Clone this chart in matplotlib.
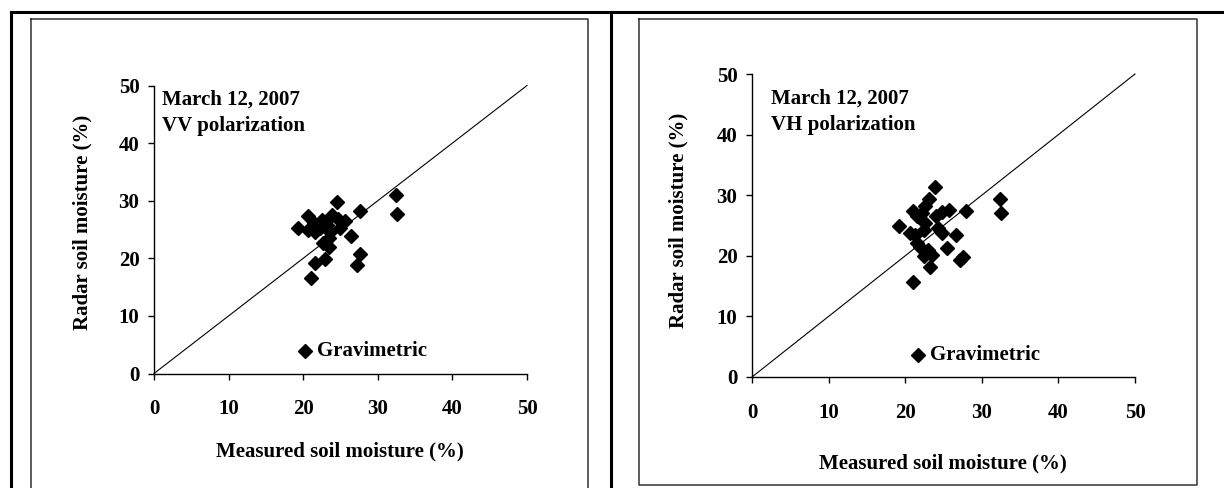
import matplotlib
matplotlib.use("Agg")
import matplotlib.pyplot as plt
from matplotlib.lines import Line2D

plt.rcParams['font.family'] = ['Liberation Serif', 'DejaVu Serif']
plt.rcParams['font.weight'] = 'bold'

# ---- data ----
vv_measured = [24.5, 27.6, 20.6, 19.3, 20.6, 21.6, 22.5, 22.3, 23.2, 23.8, 24.7, 25.6,
               24.9, 26.4, 23.4, 22.7, 23.4, 27.6, 27.2, 21.6, 22.9, 21.0, 32.4, 32.6,
               21.4, 23.6]
vv_radar = [29.7, 28.2, 27.4, 25.3, 24.9, 24.6, 26.6, 25.2, 25.8, 27.5, 26.9, 26.4,
            25.2, 23.8, 23.5, 22.6, 22.0, 20.7, 18.8, 19.1, 19.9, 16.5, 31.0, 27.7,
            26.1, 24.6]

vh_measured = [23.9, 23.1, 22.6, 21.0, 21.5, 22.2, 24.8, 25.7, 27.9, 19.2, 20.6, 21.3,
               22.6, 22.4, 24.3, 24.8, 26.6, 21.5, 21.9, 23.0, 25.4, 22.4, 23.5, 23.2,
               27.6, 27.2, 21.0, 32.4, 32.5, 24.0]
vh_radar = [31.4, 29.3, 28.2, 27.4, 26.5, 27.1, 27.2, 27.6, 27.4, 24.9, 23.8, 23.5,
            25.4, 24.3, 24.6, 23.8, 23.4, 22.1, 21.5, 21.0, 21.3, 20.0, 20.2, 18.2,
            19.8, 19.3, 15.6, 29.3, 27.1, 26.6]

ticks = [0, 10, 20, 30, 40, 50]
date_text = "March 12, 2007"
pol_labels = ["VV polarization", "VH polarization"]
legend_label = "Gravimetric"
xlabel = "Measured soil moisture (%)"
ylabel = "Radar soil moisture (%)"

W, H = 1224, 488
FS = 15
fig = plt.figure(figsize=(W / 100, H / 100), dpi=100)

def fx(px):
    return px / W

def fy(py):
    return 1 - py / H

# outer table lines
fig.add_artist(Line2D([fx(11), 1.0], [fy(12), fy(12)], color='black', lw=2.2))
fig.add_artist(Line2D([fx(11), fx(11)], [fy(12), 0.0], color='black', lw=2.2))
fig.add_artist(Line2D([fx(611), fx(611)], [fy(12), 0.0], color='black', lw=2.2))

# inner boxes
def box(x0, y0, x1, y1):
    fig.add_artist(Line2D([fx(x0), fx(x1), fx(x1), fx(x0), fx(x0)],
                          [fy(y0), fy(y0), fy(y1), fy(y1), fy(y0)],
                          color='#333333', lw=1.1))

box(31, 19, 588, 495)
box(639, 19, 1197, 485)

panels = [
    dict(ax_px=(154, 85.5, 527, 373.5), xm=vv_measured, yr=vv_radar, pol=pol_labels[0],
         ylab=(82, 222), xlab=(340, 451), txt=(162, 100, 126), leg=(305, 351)),
    dict(ax_px=(752, 74, 1135, 377), xm=vh_measured, yr=vh_radar, pol=pol_labels[1],
         ylab=(678, 220), xlab=(943, 463), txt=(771, 99, 125), leg=(918, 355)),
]

for p in panels:
    x0, y0, x1, y1 = p['ax_px']
    ax = fig.add_axes([fx(x0), fy(y1), (x1 - x0) / W, (y1 - y0) / H])
    ax.set_xlim(0, 50)
    ax.set_ylim(0, 50)
    ax.patch.set_alpha(0)
    for s in ['top', 'right']:
        ax.spines[s].set_visible(False)
    for s in ['left', 'bottom']:
        ax.spines[s].set_linewidth(1.0)
    ax.set_xticks(ticks)
    ax.set_yticks(ticks)
    ax.tick_params(axis='both', direction='out', length=4.5, width=1.0, labelsize=FS)
    ax.tick_params(axis='x', pad=14)
    ax.tick_params(axis='y', pad=6)
    for lab in ax.get_xticklabels() + ax.get_yticklabels():
        lab.set_fontweight('bold')
    ax.plot([0, 50], [0, 50], color='black', lw=0.8, clip_on=False)
    ax.plot(p['xm'], p['yr'], linestyle='none', marker='D', markersize=7,
            color='black', clip_on=False)
    # texts
    tx, ty1, ty2 = p['txt']
    fig.text(fx(tx), fy(ty1), date_text, fontsize=FS, fontweight='bold', ha='left', va='center')
    fig.text(fx(tx), fy(ty2), p['pol'], fontsize=FS, fontweight='bold', ha='left', va='center')
    lx, ly = p['leg']
    fig.add_artist(Line2D([fx(lx)], [fy(ly)], marker='D', markersize=7, color='black',
                          linestyle='none'))
    fig.text(fx(lx + 12), fy(ly), legend_label, fontsize=FS, fontweight='bold',
             ha='left', va='center')
    fig.text(fx(p['ylab'][0]), fy(p['ylab'][1]), ylabel, rotation=90, fontsize=FS,
             fontweight='bold', ha='center', va='center')
    fig.text(fx(p['xlab'][0]), fy(p['xlab'][1]), xlabel, fontsize=FS,
             fontweight='bold', ha='center', va='center')

fig.savefig('out.png', dpi=100)
